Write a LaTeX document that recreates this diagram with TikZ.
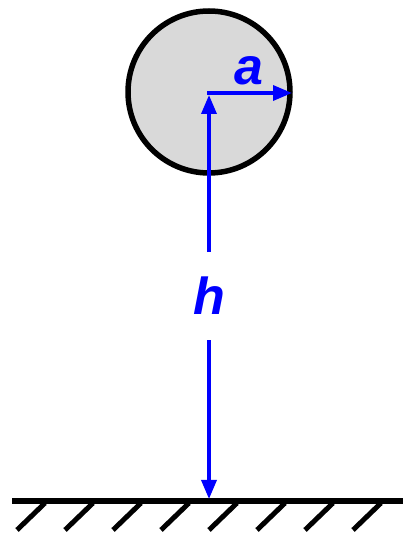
\documentclass[tikz,border=0pt]{standalone}
\usepackage{fontspec}
\setmainfont{Liberation Sans}
\usetikzlibrary{arrows.meta}
\definecolor{ballgray}{RGB}{217,217,217}
\definecolor{dimblue}{RGB}{0,0,255}
\tikzset{
  dimline/.style={draw=dimblue, line width=3.5pt, -{Triangle[length=19pt,width=15pt]}},
  dimlabel/.style={text=dimblue, font=\fontsize{52}{52}\selectfont\bfseries\itshape},
  hatchline/.style={line width=5pt},
}
\begin{document}
\begin{tikzpicture}[x=1pt,y=1pt]
\useasboundingbox (0,0) rectangle (403,536);
% ball
\node[circle, draw=black, line width=5.5pt, fill=ballgray, minimum size=162pt, inner sep=0pt] (ball) at (209,444) {};
\coordinate (c) at (209,443);
\coordinate (o) at (207,443);
\coordinate (r) at (292,443);
\coordinate (ct) at (209,441);
% ground
\coordinate (gl) at (12,35);
\coordinate (gr) at (403,35);
\coordinate (g) at (209,37);
\draw[line width=6pt] (gl) -- (gr);
\foreach \x in {45,93,141,189,237,285,333,381}{
  \draw[hatchline] (\x,33) -- (\x-28,6);
}
% radius
\draw[dimline] (o) -- (r);
\node[dimlabel, anchor=base] (alab) at (249,451) {a};
% height
\node[dimlabel, anchor=base, inner sep=25pt] (hlab) at (209,221) {h};
\draw[dimline] (hlab.north) -- (ct);
\draw[dimline] (hlab.south) -- (g);
\end{tikzpicture}
\end{document}
